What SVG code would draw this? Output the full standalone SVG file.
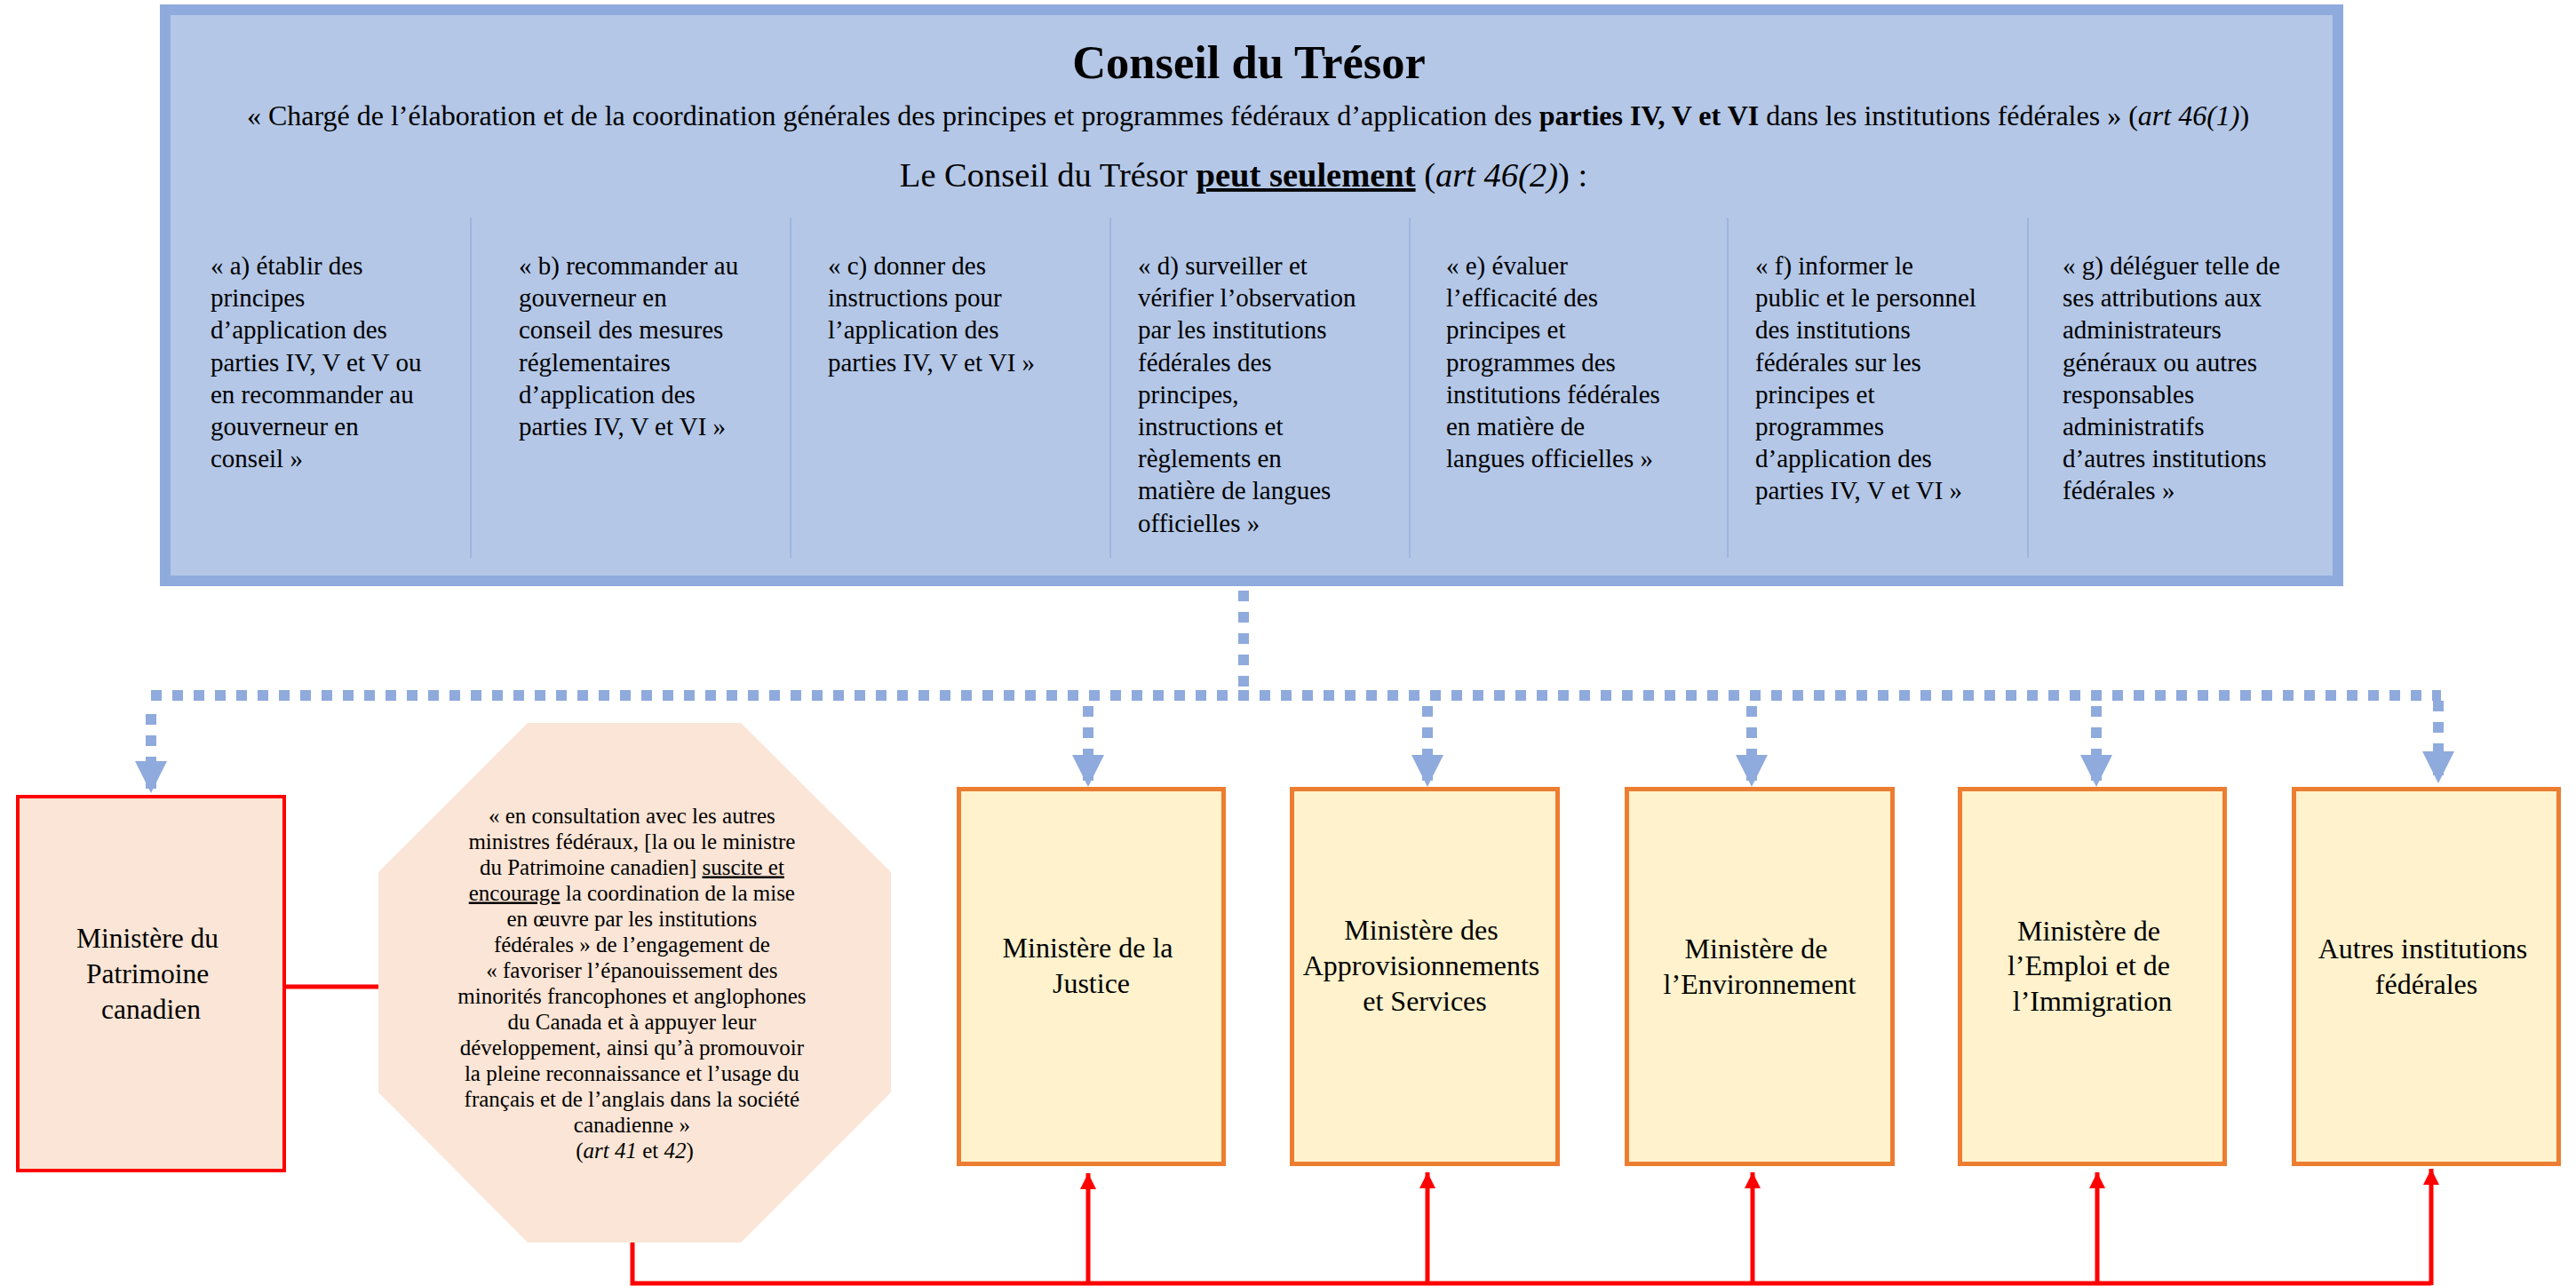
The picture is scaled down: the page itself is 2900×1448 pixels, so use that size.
<svg xmlns="http://www.w3.org/2000/svg" width="2900" height="1448" viewBox="0 0 2900 1448">
<style>
text { font-family: "Liberation Serif", "Times New Roman", serif; fill: #000; }
.title { font-size: 52.5px; font-weight: bold; }
.sub { font-size: 32px; }
.sub2 { font-size: 38.5px; }
.col { font-size: 29px; }
.oct { font-size: 25px; }
.box { font-size: 32px; }
.pat { font-size: 31.5px; }
.b { font-weight: bold; }
.i { font-style: italic; }
.u { text-decoration: underline; }
.div { stroke: #8FAADC; stroke-width: 1.2; }
.blue { fill: none; stroke: #8FAADC; stroke-width: 12; stroke-dasharray: 12 12; }
.red { fill: none; stroke: #FF0000; stroke-width: 5; }
.orange { fill: #FFF2CC; stroke: #ED7D31; stroke-width: 5; }
</style>
<defs>
<marker id="blueArrow" markerUnits="userSpaceOnUse" markerWidth="36" markerHeight="36" refX="36" refY="18" orient="auto">
<path d="M0,0 L36,18 L0,36 z" fill="#8FAADC"/>
</marker>
<marker id="redArrow" markerUnits="userSpaceOnUse" markerWidth="18" markerHeight="18" refX="18" refY="9" orient="auto">
<path d="M0,0 L18,9 L0,18 z" fill="#FF0000"/>
</marker>
</defs>
<rect width="2900" height="1448" fill="#FFFFFF"/>

<g id="conseil-tresor">
<rect x="186" y="11" width="2446" height="643" fill="#B4C7E7" stroke="#8FAADC" stroke-width="12"/>
<text class="title" x="1406" y="88" text-anchor="middle">Conseil du Trésor</text>
<text class="sub" x="1405" y="141" text-anchor="middle">« Chargé de l’élaboration et de la coordination générales des principes et programmes fédéraux d’application des <tspan class="b">parties IV, V et VI</tspan> dans les institutions fédérales » (<tspan class="i">art 46(1)</tspan>)</text>
<text class="sub2" x="1400" y="210" text-anchor="middle">Le Conseil du Trésor <tspan class="b u">peut seulement</tspan> (<tspan class="i">art 46(2)</tspan>) :</text>
<line class="div" x1="530" y1="245" x2="530" y2="628"/>
<line class="div" x1="890" y1="245" x2="890" y2="628"/>
<line class="div" x1="1250" y1="245" x2="1250" y2="628"/>
<line class="div" x1="1587" y1="245" x2="1587" y2="628"/>
<line class="div" x1="1945" y1="245" x2="1945" y2="628"/>
<line class="div" x1="2283" y1="245" x2="2283" y2="628"/>
<text class="col" x="237" y="309">
<tspan x="237" dy="0">« a) établir des</tspan>
<tspan x="237" dy="36.2">principes</tspan>
<tspan x="237" dy="36.2">d’application des</tspan>
<tspan x="237" dy="36.2">parties IV, V et V ou</tspan>
<tspan x="237" dy="36.2">en recommander au</tspan>
<tspan x="237" dy="36.2">gouverneur en</tspan>
<tspan x="237" dy="36.2">conseil »</tspan>
</text>
<text class="col" x="584" y="309">
<tspan x="584" dy="0">« b) recommander au</tspan>
<tspan x="584" dy="36.2">gouverneur en</tspan>
<tspan x="584" dy="36.2">conseil des mesures</tspan>
<tspan x="584" dy="36.2">réglementaires</tspan>
<tspan x="584" dy="36.2">d’application des</tspan>
<tspan x="584" dy="36.2">parties IV, V et VI »</tspan>
</text>
<text class="col" x="932" y="309">
<tspan x="932" dy="0">« c) donner des</tspan>
<tspan x="932" dy="36.2">instructions pour</tspan>
<tspan x="932" dy="36.2">l’application des</tspan>
<tspan x="932" dy="36.2">parties IV, V et VI »</tspan>
</text>
<text class="col" x="1281" y="309">
<tspan x="1281" dy="0">« d) surveiller et</tspan>
<tspan x="1281" dy="36.2">vérifier l’observation</tspan>
<tspan x="1281" dy="36.2">par les institutions</tspan>
<tspan x="1281" dy="36.2">fédérales des</tspan>
<tspan x="1281" dy="36.2">principes,</tspan>
<tspan x="1281" dy="36.2">instructions et</tspan>
<tspan x="1281" dy="36.2">règlements en</tspan>
<tspan x="1281" dy="36.2">matière de langues</tspan>
<tspan x="1281" dy="36.2">officielles »</tspan>
</text>
<text class="col" x="1628" y="309">
<tspan x="1628" dy="0">« e) évaluer</tspan>
<tspan x="1628" dy="36.2">l’efficacité des</tspan>
<tspan x="1628" dy="36.2">principes et</tspan>
<tspan x="1628" dy="36.2">programmes des</tspan>
<tspan x="1628" dy="36.2">institutions fédérales</tspan>
<tspan x="1628" dy="36.2">en matière de</tspan>
<tspan x="1628" dy="36.2">langues officielles »</tspan>
</text>
<text class="col" x="1976" y="309">
<tspan x="1976" dy="0">« f) informer le</tspan>
<tspan x="1976" dy="36.2">public et le personnel</tspan>
<tspan x="1976" dy="36.2">des institutions</tspan>
<tspan x="1976" dy="36.2">fédérales sur les</tspan>
<tspan x="1976" dy="36.2">principes et</tspan>
<tspan x="1976" dy="36.2">programmes</tspan>
<tspan x="1976" dy="36.2">d’application des</tspan>
<tspan x="1976" dy="36.2">parties IV, V et VI »</tspan>
</text>
<text class="col" x="2322" y="309">
<tspan x="2322" dy="0">« g) déléguer telle de</tspan>
<tspan x="2322" dy="36.2">ses attributions aux</tspan>
<tspan x="2322" dy="36.2">administrateurs</tspan>
<tspan x="2322" dy="36.2">généraux ou autres</tspan>
<tspan x="2322" dy="36.2">responsables</tspan>
<tspan x="2322" dy="36.2">administratifs</tspan>
<tspan x="2322" dy="36.2">d’autres institutions</tspan>
<tspan x="2322" dy="36.2">fédérales »</tspan>
</text>
</g>

<g id="connectors">
<path class="blue" d="M1400,665 L1400,777"/>
<path class="blue" d="M170,783 L2748,783"/>
<path class="blue" d="M170,804 L170,893" marker-end="url(#blueArrow)"/>
<path class="blue" d="M1225,795 L1225,886" marker-end="url(#blueArrow)"/>
<path class="blue" d="M1607,795 L1607,886" marker-end="url(#blueArrow)"/>
<path class="blue" d="M1972,795 L1972,886" marker-end="url(#blueArrow)"/>
<path class="blue" d="M2360,795 L2360,886" marker-end="url(#blueArrow)"/>
<path class="blue" d="M2745,789 L2745,882" marker-end="url(#blueArrow)"/>
<path class="red" d="M322,1111 L426,1111"/>
<path class="red" d="M712,1399 L712,1445 L2737,1445"/>
<path class="red" d="M1225,1445 L1225,1321" marker-end="url(#redArrow)"/>
<path class="red" d="M1607,1445 L1607,1320" marker-end="url(#redArrow)"/>
<path class="red" d="M1973,1445 L1973,1320" marker-end="url(#redArrow)"/>
<path class="red" d="M2361,1445 L2361,1320" marker-end="url(#redArrow)"/>
<path class="red" d="M2737,1447 L2737,1316" marker-end="url(#redArrow)"/>
</g>

<g id="patrimoine">
<rect x="20" y="897" width="300" height="421" fill="#FBE5D6" stroke="#FF0000" stroke-width="4"/>
<text class="pat" text-anchor="middle">
<tspan x="170" y="1067">Ministère du</tspan>
<tspan x="170" y="1107">Patrimoine</tspan>
<tspan x="170" y="1147">canadien</tspan>
</text>
</g>

<g id="engagement">
<polygon points="594,814 834,814 1003,982 1003,1230 834,1399 594,1399 426,1230 426,982" fill="#FBE5D6"/>
<text class="oct" text-anchor="middle">
<tspan x="714.5" y="926.5">« en consultation avec les autres</tspan>
<tspan x="714.5" y="955.5">ministres fédéraux, [la ou le ministre</tspan>
<tspan x="714.5" y="984.5">du Patrimoine canadien] <tspan class="u">suscite et</tspan></tspan>
<tspan x="714.5" y="1013.5"><tspan class="u">encourage</tspan> la coordination de la mise</tspan>
<tspan x="714.5" y="1042.5">en œuvre par les institutions</tspan>
<tspan x="714.5" y="1071.5">fédérales » de l’engagement de</tspan>
<tspan x="714.5" y="1100.5">« favoriser l’épanouissement des</tspan>
<tspan x="714.5" y="1129.5">minorités francophones et anglophones</tspan>
<tspan x="714.5" y="1158.5">du Canada et à appuyer leur</tspan>
<tspan x="714.5" y="1187.5">développement, ainsi qu’à promouvoir</tspan>
<tspan x="714.5" y="1216.5">la pleine reconnaissance et l’usage du</tspan>
<tspan x="714.5" y="1245.5">français et de l’anglais dans la société</tspan>
<tspan x="714.5" y="1274.5">canadienne »</tspan>
<tspan x="714.5" y="1303.5">(<tspan class="i">art 41</tspan> et <tspan class="i">42</tspan>)</tspan>
</text>
</g>

<g id="justice">
<rect class="orange" x="1079.5" y="888.5" width="298" height="422"/>
<text class="box" text-anchor="middle">
<tspan x="1228.5" y="1078">Ministère de la</tspan>
<tspan x="1228.5" y="1118">Justice</tspan>
</text>
</g>

<g id="approvisionnements">
<rect class="orange" x="1454.5" y="888.5" width="299" height="422"/>
<text class="box" text-anchor="middle">
<tspan x="1604" y="1058">Ministère des</tspan>
<tspan x="1604" y="1098">Approvisionnements</tspan>
<tspan x="1604" y="1138">et Services</tspan>
</text>
</g>

<g id="environnement">
<rect class="orange" x="1831.5" y="888.5" width="299" height="422"/>
<text class="box" text-anchor="middle">
<tspan x="1981" y="1079">Ministère de</tspan>
<tspan x="1981" y="1119">l’Environnement</tspan>
</text>
</g>

<g id="emploi">
<rect class="orange" x="2206.5" y="888.5" width="298" height="422"/>
<text class="box" text-anchor="middle">
<tspan x="2355.5" y="1059">Ministère de</tspan>
<tspan x="2355.5" y="1098">l’Emploi et de</tspan>
<tspan x="2355.5" y="1138">l’Immigration</tspan>
</text>
</g>

<g id="autres">
<rect class="orange" x="2582.5" y="888.5" width="298" height="422"/>
<text class="box" text-anchor="middle">
<tspan x="2731.5" y="1079">Autres institutions</tspan>
<tspan x="2731.5" y="1119">fédérales</tspan>
</text>
</g>
</svg>
